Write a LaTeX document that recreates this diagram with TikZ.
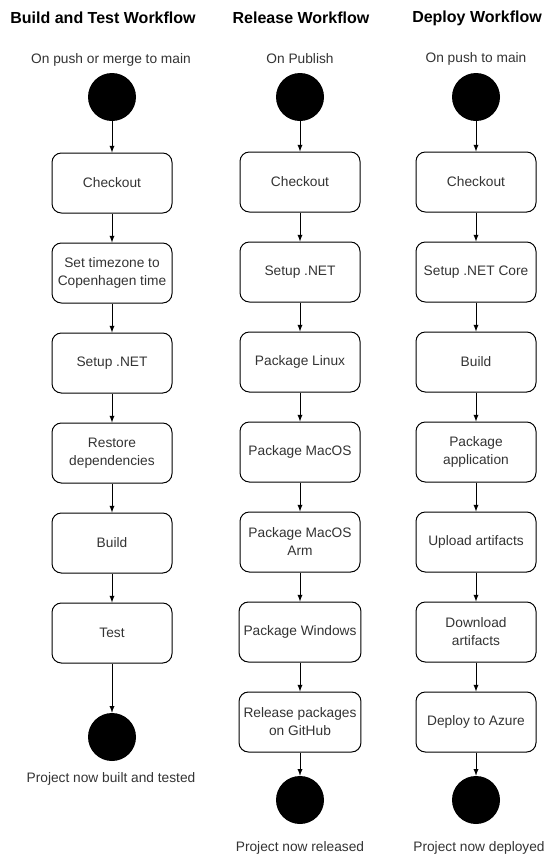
\documentclass[tikz,border=0pt]{standalone}
\usepackage{fontspec}
\setmainfont{Liberation Sans}
\usetikzlibrary{arrows}
\begin{document}
\begin{tikzpicture}[x=0.75pt,y=-0.75pt]
\tikzstyle{etape}=[rectangle,draw,rounded corners=7pt,line width=0.75pt,minimum width=90pt,minimum height=45pt,align=center,text=black!80,font=\fontsize{10.3}{13.5}\selectfont]
\tikzstyle{point}=[circle,fill=black,minimum size=36pt,inner sep=0pt]
\tikzstyle{titre}=[font=\bfseries\fontsize{12}{14}\selectfont]
\tikzstyle{texte}=[text=black!80,font=\fontsize{10.3}{13.5}\selectfont]
\tikzstyle{fleche}=[->,>=latex,line width=0.75pt]
\useasboundingbox (0,0) rectangle (555,861);
% build and test
\node[titre] (t1) at (103,18) {Build and Test Workflow};
\node[texte] (in1) at (111,60) {On push or merge to main};
\node[point] (s1) at (112,97) {};
\node[etape] (a1) at (112,183) {Checkout};
\node[etape] (a2) at (112,273) {Set timezone to\\Copenhagen time};
\node[etape] (a3) at (112,363) {Setup .NET};
\node[etape] (a4) at (112,453) {Restore\\dependencies};
\node[etape] (a5) at (112,543) {Build};
\node[etape] (a6) at (112,633) {Test};
\node[point] (f1) at (112,737) {};
\node[texte] (out1) at (111,779) {Project now built and tested};
% release
\node[titre] (t2) at (301,18) {Release Workflow};
\node[texte] (in2) at (300,59) {On Publish};
\node[point] (s2) at (300,97) {};
\node[etape] (b1) at (300,182) {Checkout};
\node[etape] (b2) at (300,272) {Setup .NET};
\node[etape] (b3) at (300,362) {Package Linux};
\node[etape] (b4) at (300,452) {Package MacOS};
\node[etape] (b5) at (300,542) {Package MacOS\\Arm};
\node[etape] (b6) at (300,632) {Package Windows};
\node[etape] (b7) at (300,722) {Release packages\\on GitHub};
\node[point] (f2) at (300,800) {};
\node[texte] (out2) at (300,848) {Project now released};
% deploy
\node[titre] (t3) at (477,18) {Deploy Workflow};
\node[texte] (in3) at (476,59) {On push to main};
\node[point] (s3) at (476,97) {};
\node[etape] (c1) at (476,182) {Checkout};
\node[etape] (c2) at (476,272) {Setup .NET Core};
\node[etape] (c3) at (476,362) {Build};
\node[etape] (c4) at (476,452) {Package\\application};
\node[etape] (c5) at (476,542) {Upload artifacts};
\node[etape] (c6) at (476,632) {Download\\artifacts};
\node[etape] (c7) at (476,722) {Deploy to Azure};
\node[point] (f3) at (476,800) {};
\node[texte] (out3) at (479,848) {Project now deployed};
%flèches
\draw[fleche] (s1)--(a1);
\draw[fleche] (a1)--(a2);
\draw[fleche] (a2)--(a3);
\draw[fleche] (a3)--(a4);
\draw[fleche] (a4)--(a5);
\draw[fleche] (a5)--(a6);
\draw[fleche] (a6)--(f1);
\draw[fleche] (s2)--(b1);
\draw[fleche] (b1)--(b2);
\draw[fleche] (b2)--(b3);
\draw[fleche] (b3)--(b4);
\draw[fleche] (b4)--(b5);
\draw[fleche] (b5)--(b6);
\draw[fleche] (b6)--(b7);
\draw[fleche] (b7)--(f2);
\draw[fleche] (s3)--(c1);
\draw[fleche] (c1)--(c2);
\draw[fleche] (c2)--(c3);
\draw[fleche] (c3)--(c4);
\draw[fleche] (c4)--(c5);
\draw[fleche] (c5)--(c6);
\draw[fleche] (c6)--(c7);
\draw[fleche] (c7)--(f3);
\end{tikzpicture}
\end{document}
